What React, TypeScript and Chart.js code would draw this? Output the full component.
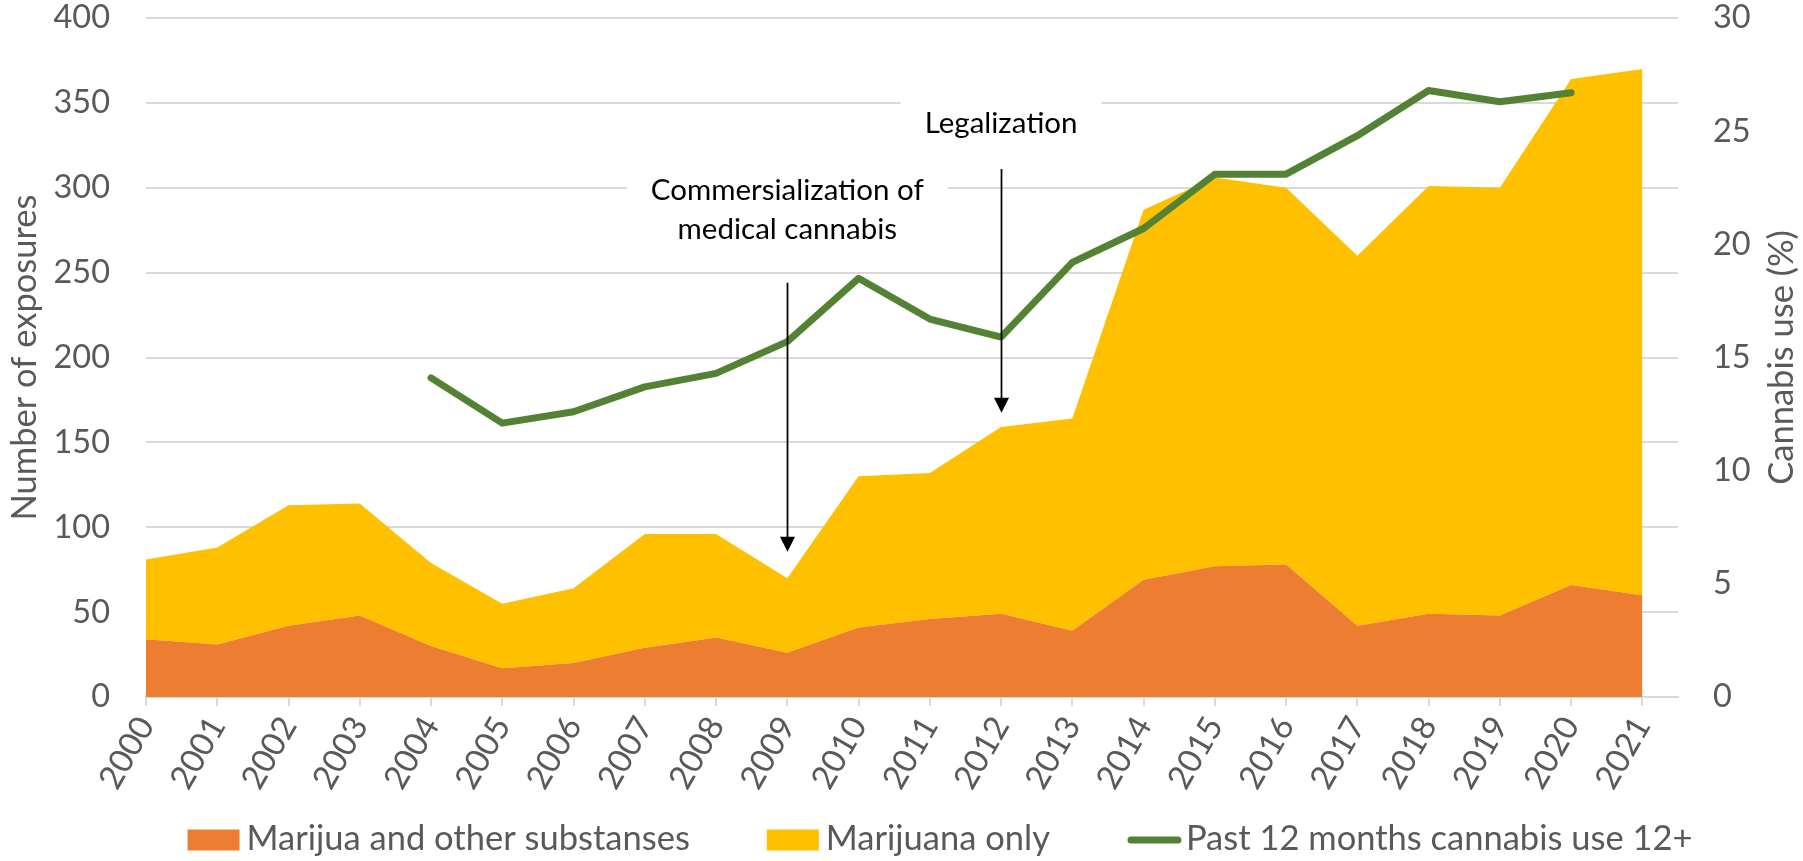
import React, { useEffect, useRef } from 'react';
import { Chart, registerables } from 'chart.js';

Chart.register(...registerables);

// ---------------- data ----------------
const years = [2000, 2001, 2002, 2003, 2004, 2005, 2006, 2007, 2008, 2009, 2010, 2011, 2012, 2013, 2014, 2015, 2016, 2017, 2018, 2019, 2020, 2021];
const otherSubstances = [34, 31, 42, 48, 30, 17, 20, 29, 35, 26, 41, 46, 49, 39, 69, 77, 78, 42, 49, 48, 66, 60];
const marijuanaOnly = [47, 57, 71, 66, 49, 38, 44, 67, 61, 44, 89, 86, 110, 125, 218, 229, 222, 218, 252, 252, 298, 310];
const pastYearUse = [null, null, null, null, 14.1, 12.1, 12.6, 13.7, 14.3, 15.7, 18.5, 16.7, 15.9, 19.2, 20.7, 23.1, 23.1, 24.8, 26.8, 26.3, 26.7, null];

const seriesNames = ['Marijua and other substanses', 'Marijuana only', 'Past 12 months cannabis use 12+'];
const seriesColors = ['#ED7D31', '#FFC000', '#548235'];

const leftAxisTitle = 'Number of exposures';
const rightAxisTitle = 'Cannabis use (%)';
const leftMax = 400;
const leftStep = 50;
const rightMax = 30;
const rightStep = 5;

// annotations (data coordinates: x = year, y = left-axis value)
const annotationLabels = [
  { x: 2009, y: 287, lines: ['Commersialization of', 'medical cannabis'] },
  { x: 2012, y: 338, lines: ['Legalization'] },
];
const annotationArrows = [
  { x: 2009, from: 244, to: 85.5 },
  { x: 2012, from: 311, to: 167.5 },
];

// ---------------- styles ----------------
const GRAY_TEXT = '#595959';
const GRID = '#d9d9d9';
const FONT = 'Lato, "Open Sans", sans-serif';

const annotationPlugin = {
  id: 'annotations',
  beforeDatasetsDraw(chart: any) {
    const { ctx } = chart;
    const xs = chart.scales.x;
    const ys = chart.scales.y;
    ctx.save();
    ctx.font = `29.5px ${FONT}`;
    annotationLabels.forEach((a) => {
      const cx = xs.getPixelForValue(a.x);
      const cy = ys.getPixelForValue(a.y);
      const lh = 38.5;
      const w = Math.max(...a.lines.map((l) => ctx.measureText(l).width)) + 48;
      const h = a.lines.length * lh + 20;
      ctx.fillStyle = '#ffffff';
      ctx.fillRect(cx - w / 2, cy - h / 2, w, h);
    });
    ctx.restore();
  },
  afterDatasetsDraw(chart: any) {
    const { ctx } = chart;
    const xs = chart.scales.x;
    const ys = chart.scales.y;
    ctx.save();
    ctx.font = `29.5px ${FONT}`;
    ctx.fillStyle = '#000000';
    ctx.textAlign = 'center';
    ctx.textBaseline = 'middle';
    annotationLabels.forEach((a) => {
      const cx = xs.getPixelForValue(a.x);
      const cy = ys.getPixelForValue(a.y);
      const lh = 38.5;
      const n = a.lines.length;
      a.lines.forEach((l, i) => {
        ctx.fillText(l, cx, cy + (i - (n - 1) / 2) * lh);
      });
    });
    annotationArrows.forEach((a) => {
      const x = Math.round(xs.getPixelForValue(a.x)) + 0.5;
      const y0 = ys.getPixelForValue(a.from);
      const y1 = ys.getPixelForValue(a.to);
      const head = 15;
      ctx.strokeStyle = '#000000';
      ctx.lineWidth = 1.75;
      ctx.beginPath();
      ctx.moveTo(x, y0);
      ctx.lineTo(x, y1 - head + 2);
      ctx.stroke();
      ctx.fillStyle = '#000000';
      ctx.beginPath();
      ctx.moveTo(x - 7.5, y1 - head);
      ctx.lineTo(x + 7.5, y1 - head);
      ctx.lineTo(x, y1);
      ctx.closePath();
      ctx.fill();
    });
    ctx.restore();
  },
};

const extrasPlugin = {
  id: 'extras',
  afterDraw(chart: any) {
    const { ctx, chartArea } = chart;
    ctx.save();
    // right axis title, reading bottom-to-top
    ctx.font = `34.5px ${FONT}`;
    ctx.fillStyle = GRAY_TEXT;
    ctx.textAlign = 'center';
    ctx.textBaseline = 'middle';
    ctx.translate(chart.width - 21, (chartArea.top + chartArea.bottom) / 2);
    ctx.rotate(-Math.PI / 2);
    ctx.fillText(rightAxisTitle, 0, 0);
    ctx.restore();

    // legend
    ctx.save();
    ctx.font = `34.5px ${FONT}`;
    ctx.textBaseline = 'middle';
    ctx.textAlign = 'left';
    const boxW = 52;
    const boxH = 21;
    const boxGap = 7;
    const itemGap = 77;
    const widths = seriesNames.map((n) => ctx.measureText(n).width);
    const total = widths.reduce((s, w) => s + boxW + boxGap + w, 0) + itemGap * (seriesNames.length - 1);
    const cx = 940;
    const cy = 840;
    let x = cx - total / 2;
    seriesNames.forEach((name, i) => {
      if (i < 2) {
        ctx.fillStyle = seriesColors[i];
        ctx.fillRect(x, cy - boxH / 2, boxW, boxH);
      } else {
        ctx.strokeStyle = seriesColors[i];
        ctx.lineWidth = 7;
        ctx.lineCap = 'round';
        ctx.beginPath();
        ctx.moveTo(x + 4, cy);
        ctx.lineTo(x + boxW - 1, cy);
        ctx.stroke();
      }
      ctx.fillStyle = GRAY_TEXT;
      ctx.fillText(name, x + boxW + boxGap, cy - 1);
      x += boxW + boxGap + widths[i] + itemGap;
    });
    ctx.restore();
  },
};

export default function App() {
  const canvasRef = useRef<HTMLCanvasElement | null>(null);

  useEffect(() => {
    document.body.style.margin = '0';
    const canvas = canvasRef.current;
    if (!canvas) return;

    const toPoints = (vals: (number | null)[]) => years.map((yr, i) => ({ x: yr, y: vals[i] }));

    const chart = new Chart(canvas, {
      type: 'line',
      data: {
        datasets: [
          {
            label: seriesNames[0],
            data: toPoints(otherSubstances),
            yAxisID: 'y',
            backgroundColor: seriesColors[0],
            borderColor: seriesColors[0],
            borderWidth: 0,
            pointRadius: 0,
            fill: 'origin',
            tension: 0,
          },
          {
            label: seriesNames[1],
            data: toPoints(marijuanaOnly),
            yAxisID: 'y',
            backgroundColor: seriesColors[1],
            borderColor: seriesColors[1],
            borderWidth: 0,
            pointRadius: 0,
            fill: '-1',
            tension: 0,
          },
          {
            label: seriesNames[2],
            data: toPoints(pastYearUse),
            yAxisID: 'y1',
            borderColor: seriesColors[2],
            backgroundColor: seriesColors[2],
            borderWidth: 7,
            borderCapStyle: 'round',
            borderJoinStyle: 'round',
            pointRadius: 0,
            fill: false,
            spanGaps: false,
            tension: 0,
            order: -1,
          },
        ] as any,
      },
      options: {
        animation: false,
        responsive: false,
        devicePixelRatio: 1,
        layout: { padding: { top: 18, left: 0, right: 0, bottom: 0 } },
        plugins: {
          legend: { display: false },
          tooltip: { enabled: false },
        },
        scales: {
          x: {
            type: 'linear',
            min: years[0],
            max: years[years.length - 1] + 0.5,
            afterBuildTicks: (s: any) => {
              s.ticks = years.map((v) => ({ value: v }));
            },
            afterFit: (s: any) => {
              s.height = 164;
              s.paddingLeft = 0;
              s.paddingRight = 0;
            },
            ticks: {
              autoSkip: false,
              minRotation: 60,
              maxRotation: 60,
              padding: 4,
              color: GRAY_TEXT,
              font: { family: FONT, size: 33 },
              callback: (v: any) => String(v),
            },
            grid: {
              drawOnChartArea: false,
              drawTicks: true,
              tickLength: 9,
              color: GRID,
              lineWidth: 2,
            },
            border: { display: true, color: GRID, width: 2 },
          },
          y: {
            type: 'linear',
            position: 'left',
            stacked: true,
            min: 0,
            max: leftMax,
            afterFit: (s: any) => {
              s.width = 146;
              s.paddingTop = 0;
              s.paddingBottom = 0;
            },
            ticks: {
              stepSize: leftStep,
              padding: 36,
              color: GRAY_TEXT,
              font: { family: FONT, size: 32.5 },
            },
            grid: { color: GRID, lineWidth: 2, drawTicks: false },
            border: { display: false },
            title: {
              display: true,
              text: leftAxisTitle,
              color: GRAY_TEXT,
              font: { family: FONT, size: 34.5 },
              padding: { top: 4, bottom: 0 },
            },
          },
          y1: {
            type: 'linear',
            position: 'right',
            min: 0,
            max: rightMax,
            afterFit: (s: any) => {
              s.width = 125;
              s.paddingTop = 0;
              s.paddingBottom = 0;
            },
            ticks: {
              stepSize: rightStep,
              padding: 35,
              color: GRAY_TEXT,
              font: { family: FONT, size: 32.5 },
            },
            grid: { drawOnChartArea: false, drawTicks: false },
            border: { display: false },
          },
        } as any,
      },
      plugins: [annotationPlugin, extrasPlugin],
    });

    return () => {
      chart.destroy();
    };
  }, []);

  return (
    <div style={{ width: 1803, height: 861 }}>
      <canvas ref={canvasRef} width={1803} height={861} style={{ display: 'block' }} />
    </div>
  );
}
